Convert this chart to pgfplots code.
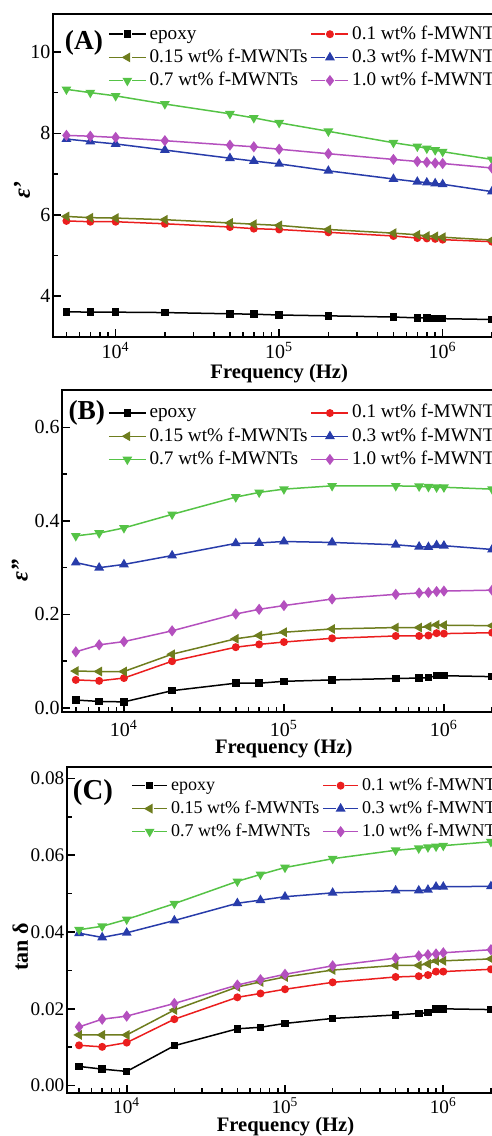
\documentclass[border=0pt]{standalone}
\usepackage{fontspec}
\setmainfont{Liberation Serif}
\usepackage{pgfplots}
\pgfplotsset{compat=1.18}
\usepackage{pgfplotstable}

\definecolor{cRed}{RGB}{235,30,30}
\definecolor{cOlive}{RGB}{110,125,30}
\definecolor{cBlue}{RGB}{40,60,170}
\definecolor{cGreen}{RGB}{85,195,70}
\definecolor{cMag}{RGB}{180,80,190}

\pgfplotstableread{
f       ep    c01   c015  c03   c07   c10
5000    3.62  5.85  5.96  7.86  9.08  7.95
7000    3.61  5.83  5.93  7.80  9.00  7.93
10000   3.61  5.83  5.92  7.74  8.92  7.90
20000   3.60  5.78  5.88  7.59  8.72  7.82
50000   3.57  5.70  5.80  7.39  8.48  7.71
70000   3.56  5.66  5.77  7.32  8.38  7.67
100000  3.54  5.64  5.74  7.25  8.26  7.61
200000  3.52  5.57  5.64  7.08  8.05  7.50
500000  3.49  5.48  5.55  6.88  7.77  7.36
700000  3.47  5.43  5.51  6.81  7.68  7.31
800000  3.47  5.42  5.48  6.79  7.63  7.29
900000  3.46  5.41  5.47  6.77  7.59  7.27
1000000 3.45  5.39  5.45  6.75  7.55  7.26
2000000 3.43  5.34  5.38  6.57  7.36  7.15
}\tabA

\pgfplotstableread{
f       ep    c01   c015  c03   c07   c10
5000    0.017 0.060 0.079 0.311 0.368 0.120
7000    0.014 0.058 0.078 0.300 0.374 0.135
10000   0.013 0.064 0.078 0.307 0.385 0.142
20000   0.037 0.100 0.115 0.326 0.414 0.165
50000   0.053 0.130 0.148 0.352 0.451 0.201
70000   0.053 0.136 0.155 0.353 0.461 0.211
100000  0.057 0.141 0.162 0.356 0.468 0.219
200000  0.060 0.149 0.169 0.354 0.475 0.233
500000  0.063 0.154 0.172 0.349 0.475 0.243
700000  0.064 0.154 0.172 0.345 0.474 0.246
800000  0.065 0.155 0.174 0.344 0.473 0.247
900000  0.069 0.160 0.178 0.348 0.472 0.249
1000000 0.069 0.159 0.177 0.347 0.472 0.250
2000000 0.067 0.161 0.176 0.339 0.468 0.252
}\tabB

\pgfplotstableread{
f       ep     c01    c015   c03    c07    c10
5000    0.0050 0.0105 0.0132 0.0397 0.0406 0.0153
7000    0.0043 0.0101 0.0132 0.0386 0.0415 0.0173
10000   0.0037 0.0112 0.0132 0.0398 0.0433 0.0181
20000   0.0104 0.0173 0.0197 0.0430 0.0474 0.0214
50000   0.0148 0.0230 0.0257 0.0475 0.0532 0.0262
70000   0.0152 0.0240 0.0270 0.0483 0.0550 0.0276
100000  0.0162 0.0251 0.0283 0.0492 0.0568 0.0290
200000  0.0175 0.0269 0.0301 0.0502 0.0591 0.0312
500000  0.0184 0.0283 0.0313 0.0508 0.0613 0.0332
700000  0.0188 0.0285 0.0313 0.0508 0.0618 0.0338
800000  0.0190 0.0288 0.0317 0.0510 0.0621 0.0341
900000  0.0200 0.0297 0.0325 0.0518 0.0623 0.0343
1000000 0.0200 0.0297 0.0325 0.0518 0.0625 0.0346
2000000 0.0198 0.0303 0.0330 0.0519 0.0635 0.0354
}\tabC

\pgfplotsset{
  mycommon/.style={
    scale only axis, xmax=2.43e6,
    axis line style={line width=1pt},
    tick align=inside, xtick pos=left, ytick pos=left,
    major tick length=4pt, minor tick length=2.5pt,
    every tick/.style={line width=0.8pt, black},
    xtick={1e4,1e5,1e6},
    xticklabels={10\textsuperscript{4},10\textsuperscript{5},10\textsuperscript{6}},
    minor xtick={5000,6000,7000,8000,9000,20000,30000,40000,50000,60000,70000,80000,90000,200000,300000,400000,500000,600000,700000,800000,900000,2000000},
    minor y tick num=1,
    scaled y ticks=false,
    yticklabel style={inner sep=1pt},
    xticklabel style={inner sep=0pt, text depth=0pt},
    xlabel style={anchor=base, inner sep=0pt, text height=6.5pt, text depth=0pt},
    legend columns=2, legend cell align=left,
    legend style={draw=none, fill=none, inner xsep=0pt, inner ysep=0pt,
      anchor=north west, column sep=1pt,
      nodes={inner sep=0.5pt, text height=0.68em, text depth=0.2em}},
  },
  gapleg/.style={legend image code/.code={
      \draw[##1,mark=none] (0cm,0cm) -- (0.24cm,0cm) (0.41cm,0cm) -- (0.65cm,0cm);
      \draw[##1,only marks] plot coordinates {(0.325cm,0cm)};}},
  solleg/.style={legend image code/.code={
      \draw[##1,mark=none] (0cm,0cm) -- (0.65cm,0cm);
      \draw[##1,only marks] plot coordinates {(0.325cm,0cm)};}},
  gaplegCn/.style={legend image code/.code={
      \draw[##1,mark=none] (0cm,0cm) -- (0.23cm,0cm) (0.39cm,0cm) -- (0.62cm,0cm);
      \draw[##1,only marks] plot coordinates {(0.31cm,0cm)};}},
  s0/.style={black, line width=0.75pt, mark=square*, mark size=1.5pt, mark options={solid}},
  s1/.style={cRed, line width=0.75pt, mark=*, mark size=1.6pt, mark options={solid}},
  s2/.style={cOlive, line width=0.75pt, mark=triangle*, mark size=2.1pt, mark options={solid, rotate=90}},
  s3/.style={cBlue, line width=0.75pt, mark=triangle*, mark size=2.1pt, mark options={solid}},
  s4/.style={cGreen, line width=0.75pt, mark=triangle*, mark size=2.1pt, mark options={solid, rotate=180}},
  s5/.style={cMag, line width=0.75pt, mark=diamond*, mark size=2.2pt, mark options={solid}},
}

\begin{document}
\begin{tikzpicture}
\useasboundingbox (0,0) rectangle (246pt,-568pt);
\clip (0,0) rectangle (246pt,-568pt);

% ---------- (A) ----------
\begin{axis}[xmode=log, mycommon, gapleg,
  at={(26.35pt,-7pt)}, anchor=north west,
  width=226.5pt, height=161.5pt,
  xmin=4121, ymin=3, ymax=10.93,
  ytick={4,6,8,10},
  tick label style={font=\fontsize{10}{12}\selectfont},
  yticklabel style={/pgf/number format/assume math mode=true},
  xticklabel style={yshift=-2.5pt},
  xlabel={\bfseries Frequency (Hz)},
  xlabel style={at={(axis description cs:0.5,-0.127)}, font=\fontsize{10.3}{12}\selectfont},
  ylabel={\bfseries\itshape ε'},
  ylabel style={at={(axis description cs:-0.068,0.455)}, anchor=center, font=\fontsize{12}{14}\selectfont},
  legend style={at={(axis description cs:0.1214,0.969)}, font=\fontsize{9.6}{11}\selectfont, row sep=1.8pt},
]
\addplot[s0] table[x=f,y=ep]{\tabA};
\addplot[s1] table[x=f,y=c01]{\tabA};
\addplot[s2] table[x=f,y=c015]{\tabA};
\addplot[s3] table[x=f,y=c03]{\tabA};
\addplot[s4] table[x=f,y=c07]{\tabA};
\addplot[s5] table[x=f,y=c10]{\tabA};
\legend{epoxy, 0.1 wt\% f-MWNTs, 0.15 wt\% f-MWNTs, 0.3 wt\% f-MWNTs, 0.7 wt\% f-MWNTs, 1.0 wt\% f-MWNTs}
\node[font=\fontsize{13.7}{15}\selectfont\bfseries, anchor=center] at (axis description cs:0.069,0.910) {(A)};
\end{axis}

% ---------- (B) ----------
\begin{axis}[xmode=log, mycommon, solleg,
  at={(31pt,-195pt)}, anchor=north west,
  width=221.8pt, height=160.85pt,
  xmin=4100, ymin=-0.008, ymax=0.68,
  ytick={0,0.2,0.4,0.6},
  tick label style={font=\fontsize{10}{12}\selectfont},
  yticklabel style={/pgf/number format/fixed, /pgf/number format/fixed zerofill, /pgf/number format/precision=1, /pgf/number format/assume math mode=true},
  xticklabel style={yshift=-4pt},
  xlabel={\bfseries Frequency (Hz)},
  xlabel style={at={(axis description cs:0.5,-0.131)}, font=\fontsize{10.3}{12}\selectfont},
  ylabel={\bfseries\itshape ε''},
  ylabel style={at={(axis description cs:-0.095,0.44)}, anchor=center, font=\fontsize{12}{14}\selectfont},
  legend style={at={(axis description cs:0.103,0.960)}, font=\fontsize{9.6}{11}\selectfont, row sep=1.8pt},
]
\addplot[s0] table[x=f,y=ep]{\tabB};
\addplot[s1] table[x=f,y=c01]{\tabB};
\addplot[s2] table[x=f,y=c015]{\tabB};
\addplot[s3] table[x=f,y=c03]{\tabB};
\addplot[s4] table[x=f,y=c07]{\tabB};
\addplot[s5] table[x=f,y=c10]{\tabB};
\legend{epoxy, 0.1 wt\% f-MWNTs, 0.15 wt\% f-MWNTs, 0.3 wt\% f-MWNTs, 0.7 wt\% f-MWNTs, 1.0 wt\% f-MWNTs}
\node[font=\fontsize{13.7}{15}\selectfont\bfseries, anchor=center] at (axis description cs:0.056,0.929) {(B)};
\end{axis}

% ---------- (C) ----------
\begin{axis}[xmode=log, mycommon, gaplegCn,
  at={(33.35pt,-383.65pt)}, anchor=north west,
  width=218.8pt, height=163pt,
  xmin=4178, ymin=-0.002, ymax=0.0829,
  ytick={0,0.02,0.04,0.06,0.08},
  tick label style={font=\fontsize{9.6}{12}\selectfont},
  yticklabel style={/pgf/number format/fixed, /pgf/number format/fixed zerofill, /pgf/number format/precision=2, /pgf/number format/assume math mode=true},
  xticklabel style={yshift=-2pt},
  xlabel={\bfseries Frequency (Hz)},
  xlabel style={at={(axis description cs:0.5,-0.118)}, font=\fontsize{10.3}{12}\selectfont},
  ylabel={\bfseries tan δ},
  ylabel style={at={(axis description cs:-0.106,0.449)}, anchor=center, font=\fontsize{11}{13}\selectfont},
  legend style={at={(axis description cs:0.1466,0.975)}, font=\fontsize{9}{11}\selectfont, row sep=1.7pt},
]
\addplot[s0] table[x=f,y=ep]{\tabC};
\addplot[s1] table[x=f,y=c01]{\tabC};
\addplot[s2] table[x=f,y=c015]{\tabC};
\addplot[s3] table[x=f,y=c03]{\tabC};
\addplot[s4] table[x=f,y=c07]{\tabC};
\addplot[s5] table[x=f,y=c10]{\tabC};
\legend{epoxy, 0.1 wt\% f-MWNTs, 0.15 wt\% f-MWNTs, 0.3 wt\% f-MWNTs, 0.7 wt\% f-MWNTs, 1.0 wt\% f-MWNTs}
\node[font=\fontsize{14.4}{16}\selectfont\bfseries, anchor=center] at (axis description cs:0.060,0.922) {(C)};
\end{axis}
\end{tikzpicture}
\end{document}
